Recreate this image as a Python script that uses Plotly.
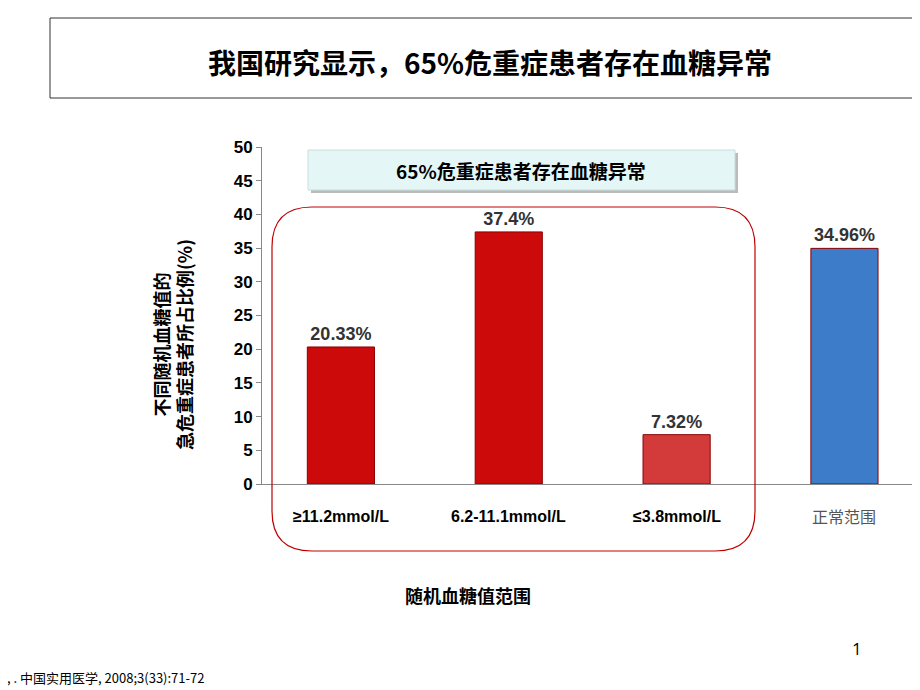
import plotly.graph_objects as go

categories = ["≥11.2mmol/L", "6.2-11.1mmol/L", "≤3.8mmol/L", "正常范围"]
values = [20.33, 37.4, 7.32, 34.96]
value_labels = ["20.33%", "37.4%", "7.32%", "34.96%"]
bar_colors = ["#cc0a0a", "#cc0a0a", "#d33b3b", "#3d7cc9"]
y_ticks = list(range(0, 55, 5))

W, H = 920, 690
OFF = 8  # page body margin
L, R, T, B = 262, 920, 147, 484  # plot area in reference pixels

def px(x):
    return (x - L) / (R - L)

def py(y):
    return (B - y) / (B - T)

fig = go.Figure()
fig.add_trace(go.Bar(
    x=list(range(len(categories))), y=values, width=0.4,
    marker=dict(color=bar_colors, line=dict(color="#8a0000", width=1)),
    text=[f"<b>{t}</b>" for t in value_labels], textposition="outside", cliponaxis=False,
    textfont=dict(size=18, color="#333333", family="Arial, Liberation Sans"),
))

x0, x1, y0, y1, r = px(272), px(755), py(551), py(207), 40
rx, ry = r / (R - L), r / (B - T)
path = (f"M {x0+rx},{y1} L {x1-rx},{y1} Q {x1},{y1} {x1},{y1-ry} "
        f"L {x1},{y0+ry} Q {x1},{y0} {x1-rx},{y0} L {x0+rx},{y0} "
        f"Q {x0},{y0} {x0},{y0+ry} L {x0},{y1-ry} Q {x0},{y1} {x0+rx},{y1} Z")

shapes = [
    dict(type="path", path=path, xref="paper", yref="paper",
         line=dict(color="#c00000", width=1.2)),
    dict(type="rect", xref="paper", yref="paper", x0=px(50), x1=px(925), y0=py(98), y1=py(18),
         line=dict(color="#333333", width=1)),
    dict(type="rect", xref="paper", yref="paper", x0=px(311), x1=px(738), y0=py(193), y1=py(153),
         fillcolor="#bbbbbb", line=dict(width=0)),
    dict(type="rect", xref="paper", yref="paper", x0=px(308), x1=px(735), y0=py(190), y1=py(150),
         fillcolor="#e4f6f6", line=dict(color="#c8dede", width=1)),
]

CJK = "Noto Sans CJK SC"
annotations = [
    dict(text="<b>我国研究显示，65%危重症患者存在血糖异常</b>", x=px(490), y=py(62),
         font=dict(size=28, color="black", family=CJK)),
    dict(text="<b>65%危重症患者存在血糖异常</b>", x=px(521), y=py(170),
         font=dict(size=19, color="black", family=CJK)),
    dict(text="<b>不同随机血糖值的<br>急危重症患者所占比例(%)</b>", x=px(172), y=py(345),
         textangle=-90, font=dict(size=18, color="black", family=CJK)),
    dict(text="<b>随机血糖值范围</b>", x=px(468), y=py(595),
         font=dict(size=18, color="black", family=CJK)),
    dict(text="1", x=px(857), y=py(648), font=dict(size=17, color="black")),
    dict(text=", . 中国实用医学, 2008;3(33):71-72", x=px(5), y=py(677), xanchor="left",
         font=dict(size=13, color="black", family=CJK)),
]
for i, c in enumerate(categories):
    last = i == len(categories) - 1
    annotations.append(dict(
        text=c if last else f"<b>{c}</b>", x=i, xref="x", y=py(516),
        font=dict(size=16, color="#555555" if last else "black",
                  family=CJK if last else "Arial, Liberation Sans")))
for a in annotations:
    a.setdefault("xref", "paper")
    a.setdefault("yref", "paper")
    a.setdefault("xanchor", "center")
    a["yanchor"] = "middle"
    a["showarrow"] = False

fig.update_layout(
    width=W, height=H, margin=dict(l=L - OFF, r=W - R + OFF, t=T - OFF, b=H - B + OFF),
    plot_bgcolor="white", paper_bgcolor="white", showlegend=False,
    shapes=shapes, annotations=annotations,
    xaxis=dict(range=[-0.47, 3.45], showticklabels=False, showgrid=False,
               showline=True, linecolor="#888888", zeroline=False),
    yaxis=dict(range=[0, 50], tickvals=y_ticks, showgrid=False, showline=True,
               linecolor="#888888", ticks="outside", ticklen=5, tickcolor="#888888",
               zeroline=False,
               tickfont=dict(size=17, color="black", family="Arial, Liberation Sans", weight="bold")),
)

fig.write_html("out.html")
